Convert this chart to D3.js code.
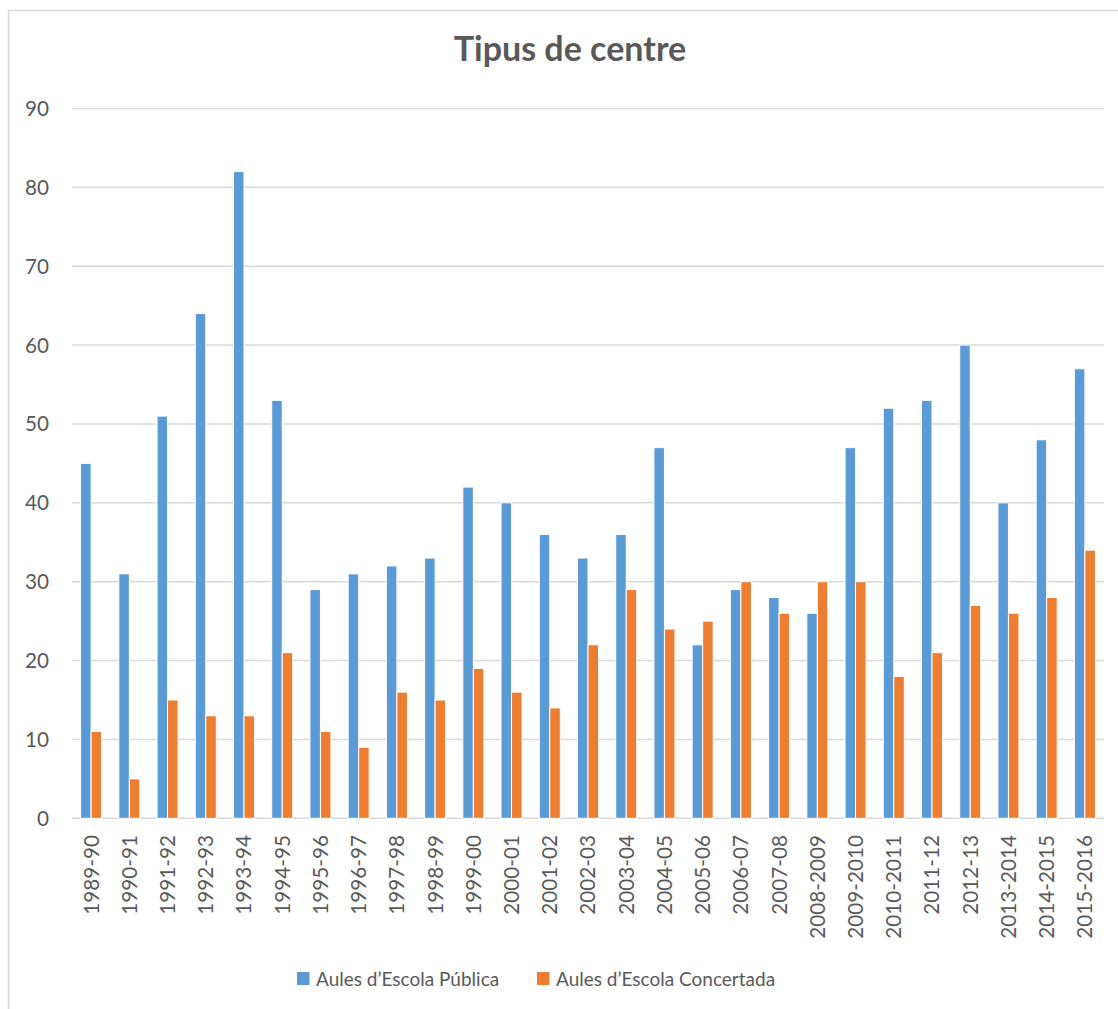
<html>
<head>
<meta charset="utf-8">
<style>
body { margin: 0; background: #fff; }
text { font-family: Lato, "Liberation Sans", sans-serif; fill: #595959; }
</style>
</head>
<body>
<svg id="viz"></svg>
<script src="https://d3js.org/d3.v7.min.js"></script>
<script>
var years = ["1989-90","1990-91","1991-92","1992-93","1993-94","1994-95","1995-96","1996-97","1997-98","1998-99",
  "1999-00","2000-01","2001-02","2002-03","2003-04","2004-05","2005-06","2006-07","2007-08","2008-2009",
  "2009-2010","2010-2011","2011-12","2012-13","2013-2014","2014-2015","2015-2016"];
var publica = [45,31,51,64,82,53,29,31,32,33,42,40,36,33,36,47,22,29,28,26,47,52,53,60,40,48,57];
var concertada = [11,5,15,13,13,21,11,9,16,15,19,16,14,22,29,24,25,30,26,30,30,18,21,27,26,28,34];
var seriesNames = ["Aules d\u2019Escola P\u00fablica", "Aules d\u2019Escola Concertada"];
var colors = ["#5B9BD5", "#ED7D31"];
var yTicks = [0,10,20,30,40,50,60,70,80,90];

var width = 1118, height = 1009;
var margin = {left: 72, right: 14, top: 108.5, bottom: 190.7};

var svg = d3.select("#viz").attr("width", width).attr("height", height);

// chart border
svg.append("rect")
  .attr("x", 8.5).attr("y", 10.5)
  .attr("width", 1200).attr("height", 1200)
  .attr("fill", "none").attr("stroke", "#D9D9D9").attr("stroke-width", 1.5);

var x = d3.scaleBand()
  .domain(years)
  .range([margin.left, width - margin.right])
  .paddingInner(0.45)
  .paddingOuter(0.225);

var xs = d3.scaleBand()
  .domain([0, 1])
  .range([0, x.bandwidth()]);

var y = d3.scaleLinear()
  .domain([0, 90])
  .range([height - margin.bottom, margin.top]);

// grid
svg.append("g").selectAll("line")
  .data(yTicks)
  .enter().append("line")
  .attr("x1", margin.left).attr("x2", width - margin.right)
  .attr("y1", function(d) { return y(d); })
  .attr("y2", function(d) { return y(d); })
  .attr("stroke", "#D9D9D9").attr("stroke-width", 1.5);

// y labels
svg.append("g").selectAll("text")
  .data(yTicks)
  .enter().append("text")
  .attr("x", 49)
  .attr("y", function(d) { return y(d); })
  .attr("dy", "0.36em")
  .attr("text-anchor", "end")
  .style("font-size", "20.7px")
  .text(function(d) { return d; });

// bars
var rows = years.map(function(yr, i) { return {year: yr, vals: [publica[i], concertada[i]]}; });

var groups = svg.append("g").selectAll("g")
  .data(rows)
  .enter().append("g")
  .attr("transform", function(d) { return "translate(" + x(d.year) + ",0)"; });

groups.selectAll("rect")
  .data(function(d) { return d.vals.map(function(v, k) { return {k: k, v: v}; }); })
  .enter().append("rect")
  .attr("x", function(d) { return xs(d.k); })
  .attr("width", xs.bandwidth())
  .attr("y", function(d) { return y(d.v); })
  .attr("height", function(d) { return y(0) - y(d.v); })
  .attr("fill", function(d) { return colors[d.k]; })
  .attr("stroke", "#fff").attr("stroke-width", 1);

// x labels
svg.append("g").selectAll("text")
  .data(years)
  .enter().append("text")
  .attr("transform", function(d) {
    return "translate(" + (x(d) + x.bandwidth() / 2) + "," + 835 + ") rotate(-90)";
  })
  .attr("dy", "0.36em")
  .attr("text-anchor", "end")
  .style("font-size", "20.7px")
  .text(function(d) { return d; });

// title
svg.append("text")
  .attr("x", 570).attr("y", 61)
  .attr("text-anchor", "middle")
  .style("font-size", "34px")
  .style("font-weight", "bold")
  .text("Tipus de centre");

// legend
var legendX = [297, 537];
var legend = svg.append("g").selectAll("g")
  .data(seriesNames)
  .enter().append("g")
  .attr("transform", function(d, i) { return "translate(" + legendX[i] + ",972)"; });

legend.append("rect")
  .attr("width", 12.5).attr("height", 13)
  .attr("fill", function(d, i) { return colors[i]; });

legend.append("text")
  .attr("x", 19).attr("y", 13.5)
  .style("font-size", "19px")
  .text(function(d) { return d; });
</script>
</body>
</html>
